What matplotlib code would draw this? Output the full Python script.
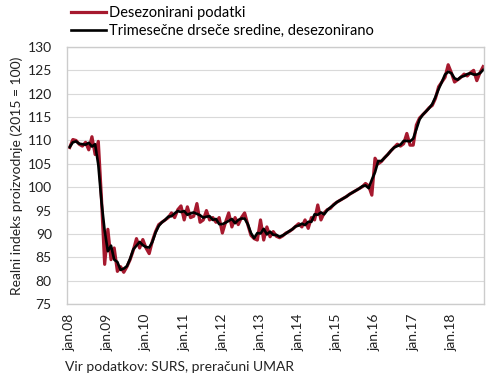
import numpy as np
import matplotlib.pyplot as plt

plt.rcParams['font.family'] = ['Lato', 'DejaVu Sans']

# monthly data, jan 2008 .. nov 2018
DESEZ = [
    108.5, 110.2, 110.0, 109.2, 108.8, 109.6, 108.0, 110.8, 107.0, 109.8, 97.5, 83.5,   # 2008
    91.0, 84.5, 87.0, 82.0, 83.0, 81.8, 83.0, 84.5, 86.5, 89.0, 87.0, 88.8,           # 2009
    87.0, 85.8, 88.5, 90.5, 92.0, 92.5, 93.0, 93.5, 94.5, 93.5, 95.2, 96.0,           # 2010
    93.0, 95.8, 93.5, 93.8, 96.5, 92.5, 93.0, 95.0, 93.0, 93.5, 92.5, 93.5,           # 2011
    90.2, 92.5, 94.5, 91.5, 93.5, 92.0, 93.5, 94.5, 92.0, 89.7, 89.0, 88.7,           # 2012
    93.0, 88.7, 91.5, 89.4, 90.5, 89.5, 89.2, 89.6, 90.2, 90.5, 91.0, 91.6,           # 2013
    92.2, 91.5, 93.0, 91.2, 93.5, 93.0, 96.2, 93.0, 94.5, 95.2, 95.5, 96.3,           # 2014
    96.8, 97.2, 97.6, 98.0, 98.5, 98.9, 99.3, 99.7, 100.1, 100.8, 100.3, 98.3,        # 2015
    106.2, 105.0, 105.5, 106.3, 107.0, 107.8, 108.5, 109.2, 108.8, 109.3, 111.5, 109.0,  # 2016
    109.0, 113.3, 114.8, 115.5, 116.2, 117.0, 117.5, 119.0, 121.5, 122.5, 123.5, 126.2,  # 2017
    124.5, 122.5, 123.0, 123.5, 124.2, 123.8, 124.5, 125.0, 122.8, 124.5, 125.8,      # 2018
]

TRIMES = [
    108.6, 109.6, 109.8, 109.3, 109.2, 109.1, 109.5, 108.7, 109.2, 104.8, 96.9, 90.7,
    86.3, 87.5, 84.5, 84.0, 82.3, 82.6, 83.1, 84.7, 86.7, 87.5, 88.3, 87.6,
    87.2, 87.1, 88.3, 90.3, 91.7, 92.5, 93.0, 93.7, 93.8, 94.4, 94.9, 94.7,
    94.9, 94.1, 94.4, 94.6, 94.3, 94.0, 93.5, 93.7, 93.8, 93.0, 93.2, 92.1,
    92.1, 92.4, 92.8, 93.2, 92.3, 93.0, 93.3, 93.3, 92.1, 90.2, 89.1, 90.2,
    90.1, 91.1, 89.9, 90.5, 89.8, 89.8, 89.4, 89.7, 90.1, 90.6, 91.0, 91.6,
    91.8, 92.2, 91.9, 92.6, 92.6, 94.2, 94.1, 94.6, 94.2, 95.1, 95.7, 96.2,
    96.8, 97.2, 97.6, 98.0, 98.5, 98.9, 99.3, 99.7, 100.2, 100.4, 99.8, 101.6,
    103.2, 105.6, 105.6, 106.3, 107.0, 107.8, 108.5, 108.8, 109.1, 109.9, 109.9, 109.8,
    110.4, 112.4, 114.5, 115.5, 116.2, 116.9, 117.8, 119.3, 121.0, 122.5, 124.1, 124.7,
    124.4, 123.3, 123.0, 123.6, 123.8, 124.2, 124.4, 124.1, 124.1, 124.4, 125.1,
]

TICK_LABELS = ["jan.08", "jan.09", "jan.10", "jan.11", "jan.12", "jan.13",
               "jan.14", "jan.15", "jan.16", "jan.17", "jan.18"]

RED = "#a6192e"
GRID = "#d9d9d9"
TXT = "#222222"

fig = plt.figure(figsize=(4.9, 3.82), dpi=100)
ax = fig.add_axes([0.137, 0.204, 0.851, 0.673])

x = np.arange(len(DESEZ))
l1, = ax.plot(x, DESEZ, color=RED, lw=2.3, solid_joinstyle="round",
              label="Desezonirani podatki")
l2, = ax.plot(x, TRIMES, color="black", lw=1.9, solid_joinstyle="round",
              label="Trimesečne drseče sredine, desezonirano")

ax.set_xlim(-0.8, 130.3)
ax.set_ylim(75, 130)
ax.set_yticks(range(75, 131, 5))
ax.set_xticks(range(0, 121, 12))
ax.set_xticklabels(TICK_LABELS, rotation=90)
ax.tick_params(length=0, labelsize=10, colors=TXT)
ax.tick_params(axis="y", pad=11)
ax.tick_params(axis="x", pad=7)
ax.grid(axis="y", color=GRID, lw=0.8)
ax.set_axisbelow(True)
for s in ax.spines.values():
    s.set_color("#cccccc")
    s.set_linewidth(1.0)

ax.set_ylabel("Realni indeks proizvodnje (2015 = 100)", fontsize=10,
              color=TXT, labelpad=3)

fig.legend(handles=[l1, l2], loc="upper left", bbox_to_anchor=(0.128, 1.008),
           frameon=False, fontsize=10.5, handlelength=2.4, handletextpad=0.15,
           labelspacing=0.32, borderaxespad=0.2)

fig.text(0.133, 0.03, "Vir podatkov: SURS, preračuni UMAR", fontsize=10,
         color=TXT)

fig.savefig("out.png", dpi=100)
